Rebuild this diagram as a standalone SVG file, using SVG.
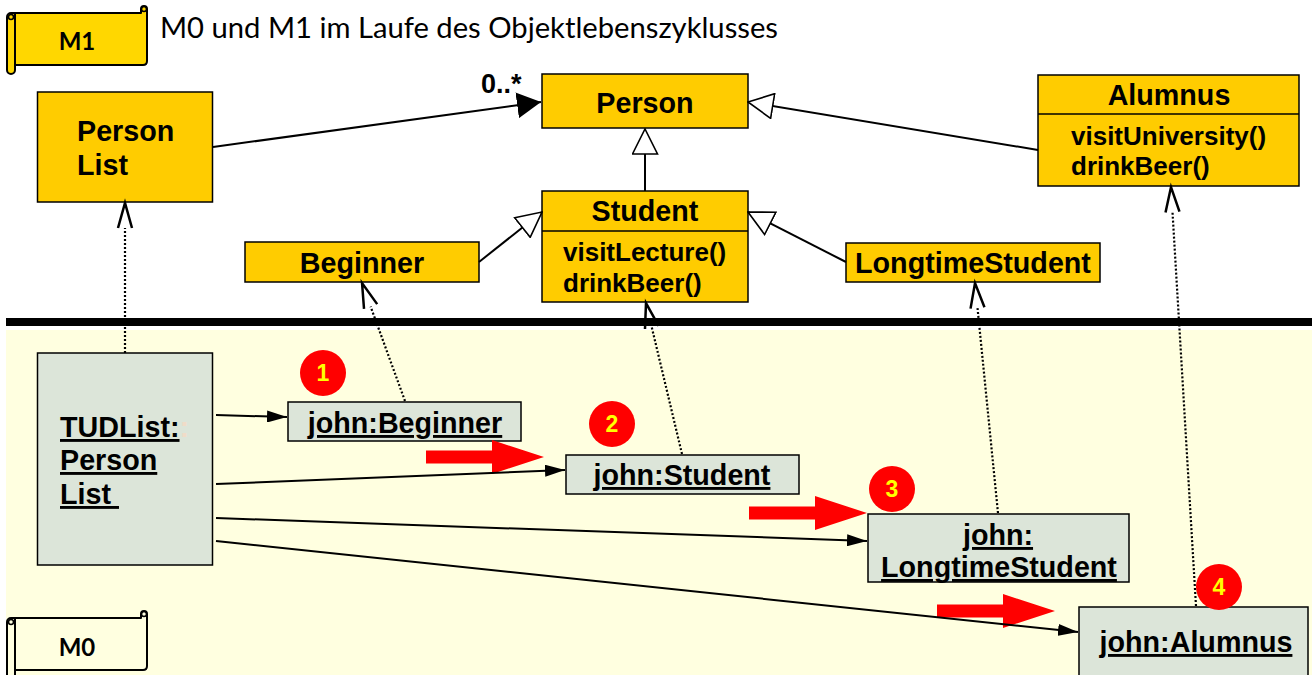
<svg xmlns="http://www.w3.org/2000/svg" width="1312" height="675" viewBox="0 0 1312 675">
<style>
.cls{fill:#FFCC00;stroke:#000;stroke-width:1.5}
.obj{fill:#DCE5D9;stroke:#000;stroke-width:1.5}
.lbl{font-family:"Liberation Sans",Arial,sans-serif;font-weight:bold;font-size:28.7px;fill:#000}
.mth{font-family:"Liberation Sans",Arial,sans-serif;font-weight:bold;font-size:26px;fill:#000}
.ul{text-decoration:underline}
.mid{text-anchor:middle}
.ln{fill:none;stroke:#000;stroke-width:2}
.dot{fill:none;stroke:#000;stroke-width:2.2;stroke-dasharray:2 2}
.badge{fill:#FF0000}
.bt{font-family:"Liberation Sans",Arial,sans-serif;font-weight:bold;font-size:23px;fill:#FFFF00;text-anchor:middle}
.scroll{stroke:#000;stroke-width:2;stroke-linejoin:round}
.st{font-family:Lato,"Open Sans",sans-serif;font-weight:bold;font-size:24px;fill:#000;text-anchor:middle}
</style>
<defs>
<marker id="gen" viewBox="0 0 27 27" refX="26" refY="13.5" markerWidth="27" markerHeight="27" markerUnits="userSpaceOnUse" orient="auto">
<path d="M1,1 L26,13.5 L1,26 Z" fill="#fff" stroke="#000" stroke-width="1.6"/>
</marker>
<marker id="assoc" viewBox="0 0 24 26" refX="24" refY="13" markerWidth="24" markerHeight="26" markerUnits="userSpaceOnUse" orient="auto">
<path d="M0,0 L24,13 L0,26 Z" fill="#000"/>
</marker>
<marker id="link" viewBox="0 0 20 12" refX="20" refY="6" markerWidth="20" markerHeight="12" markerUnits="userSpaceOnUse" orient="auto">
<path d="M0,0 L20,6 L0,12 Z" fill="#000"/>
</marker>
<marker id="inst" viewBox="-1 -1 28 16" refX="0" refY="7" markerWidth="28" markerHeight="16" markerUnits="userSpaceOnUse" orient="auto" overflow="visible">
<path d="M0,0 L25,7 L0,14" fill="none" stroke="#000" stroke-width="2.5"/>
</marker>
<path id="redarrow" d="M0,-6.5 H66 V-17 L118,0 L66,17 V6.5 H0 Z" fill="#FF0000"/>
<g id="scrollshape">
<path d="M15,13 H141 V9 A3,3 0 0 1 147,9 V61 Q147,65 143,65 H15 Z"/>
<path d="M11,13 H15 V70 A4,4 0 0 1 7,70 V17 A4,4 0 0 1 11,13 Z"/>
</g>
</defs>

<!-- background regions -->
<rect x="0" y="0" width="1312" height="675" fill="#FFFFFF"/>
<rect x="6" y="330" width="1306" height="345" fill="#FFFFE0"/>
<rect x="6" y="318" width="1306" height="8" fill="#000"/>

<!-- level scrolls -->
<g id="M1">
<use href="#scrollshape" class="scroll" fill="#FFD700"/>
<circle cx="11" cy="17" r="2.5" fill="none" stroke="#000" stroke-width="1.5"/>
<circle cx="144" cy="9" r="2.5" fill="none" stroke="#000" stroke-width="1.5"/>
<text x="77" y="50" class="st">M1</text>
</g>
<g id="M0" transform="translate(0,605)">
<use href="#scrollshape" class="scroll" fill="#FFFFE0"/>
<circle cx="11" cy="17" r="2.5" fill="none" stroke="#000" stroke-width="1.5"/>
<circle cx="144" cy="9" r="2.5" fill="none" stroke="#000" stroke-width="1.5"/>
<text x="77" y="51" class="st">M0</text>
</g>

<text x="160" y="38" font-family="Lato,'Open Sans',sans-serif" font-size="28" fill="#000" textLength="618" lengthAdjust="spacingAndGlyphs">M0 und M1 im Laufe des Objektlebenszyklusses</text>

<!-- M1 classes -->
<g id="PersonList">
<rect x="37.5" y="92" width="175" height="110" class="cls"/>
<text x="77" y="141" class="lbl">Person</text>
<text x="77" y="175" class="lbl">List</text>
</g>
<g id="Person">
<rect x="542" y="74" width="206" height="54" class="cls"/>
<text x="645" y="113" class="lbl mid">Person</text>
</g>
<g id="Student">
<rect x="542" y="191" width="206" height="111" class="cls"/>
<line x1="542" y1="231" x2="748" y2="231" stroke="#000" stroke-width="1.5"/>
<text x="645" y="221" class="lbl mid">Student</text>
<text x="563" y="261" class="mth">visitLecture()</text>
<text x="563" y="292" class="mth">drinkBeer()</text>
</g>
<g id="Beginner">
<rect x="245" y="242" width="234" height="40" class="cls"/>
<text x="362" y="273" class="lbl mid">Beginner</text>
</g>
<g id="LongtimeStudent">
<rect x="846" y="243" width="254" height="39" class="cls"/>
<text x="973" y="273" class="lbl mid">LongtimeStudent</text>
</g>
<g id="Alumnus">
<rect x="1038" y="75" width="261" height="111" class="cls"/>
<line x1="1038" y1="114" x2="1299" y2="114" stroke="#000" stroke-width="1.5"/>
<text x="1169" y="105" class="lbl mid">Alumnus</text>
<text x="1071" y="145" class="mth">visitUniversity()</text>
<text x="1071" y="175" class="mth">drinkBeer()</text>
</g>

<!-- M0 objects -->
<g id="TUDList">
<rect x="37.5" y="353" width="175" height="212" class="obj"/>
<text x="60" y="437" class="lbl"><tspan class="ul">TUDList:</tspan><tspan fill="#F0DCC8">:</tspan></text>
<text x="60" y="470" class="lbl ul">Person</text>
<text x="60" y="504" class="lbl ul" xml:space="preserve">List </text>
</g>
<g id="johnBeginner">
<rect x="288" y="402" width="233" height="39" class="obj"/>
<text x="405" y="433" class="lbl mid ul">john:Beginner</text>
</g>
<g id="johnStudent">
<rect x="566" y="455" width="233" height="39" class="obj"/>
<text x="682" y="485" class="lbl mid ul">john:Student</text>
</g>
<g id="johnLongtimeStudent">
<rect x="868" y="514" width="261" height="68" class="obj"/>
<text x="998" y="545" class="lbl mid ul">john:</text>
<text x="999" y="577" class="lbl mid ul">LongtimeStudent</text>
</g>
<g id="johnAlumnus">
<rect x="1079" y="607" width="229" height="72" class="obj"/>
<text x="1196" y="652" class="lbl mid ul">john:Alumnus</text>
</g>

<!-- step markers -->
<g id="steps">
<use href="#redarrow" transform="translate(426,457)"/>
<use href="#redarrow" transform="translate(749,513)"/>
<use href="#redarrow" transform="translate(937,611)"/>
<circle cx="323" cy="373" r="23" class="badge"/>
<text x="323" y="381" class="bt">1</text>
<circle cx="612" cy="424" r="23" class="badge"/>
<text x="612" y="432" class="bt">2</text>
<circle cx="892" cy="489" r="23" class="badge"/>
<text x="892" y="497" class="bt">3</text>
<circle cx="1219" cy="587" r="23" class="badge"/>
<text x="1219" y="595" class="bt">4</text>
</g>

<!-- connectors -->
<g id="connectors">
<line x1="213" y1="147" x2="541" y2="102" class="ln" marker-end="url(#assoc)"/>
<text x="481" y="93" font-family="Liberation Sans,Arial,sans-serif" font-weight="bold" font-size="27" fill="#000">0..*</text>
<line x1="645" y1="191" x2="645" y2="129" class="ln" marker-end="url(#gen)"/>
<line x1="479" y1="262" x2="542" y2="212" class="ln" marker-end="url(#gen)"/>
<line x1="846" y1="262" x2="748" y2="212" class="ln" marker-end="url(#gen)"/>
<line x1="1038" y1="150" x2="748" y2="102" class="ln" marker-end="url(#gen)"/>

<line x1="125" y1="353" x2="125" y2="228" class="dot" marker-end="url(#inst)"/>
<line x1="405" y1="401" x2="370.6" y2="306.5" class="dot" marker-end="url(#inst)"/>
<line x1="682" y1="454" x2="651.8" y2="327.4" class="dot" marker-end="url(#inst)"/>
<line x1="998" y1="513" x2="977.5" y2="307.9" class="dot" marker-end="url(#inst)"/>
<line x1="1196" y1="606" x2="1172.5" y2="212" class="dot" marker-end="url(#inst)"/>

<line x1="216" y1="415" x2="287" y2="417" class="ln" marker-end="url(#link)"/>
<line x1="216" y1="484" x2="565" y2="470" class="ln" marker-end="url(#link)"/>
<line x1="216" y1="518" x2="867" y2="541" class="ln" marker-end="url(#link)"/>
<line x1="216" y1="541" x2="1078" y2="632" class="ln" marker-end="url(#link)"/>
</g>
</svg>
